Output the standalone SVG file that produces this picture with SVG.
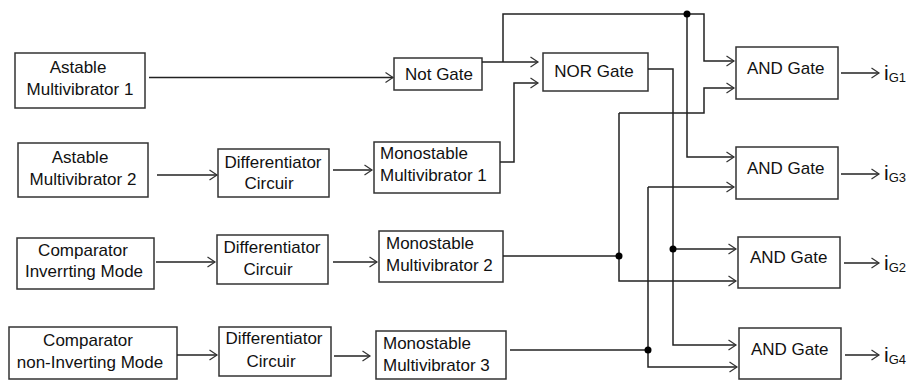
<svg xmlns="http://www.w3.org/2000/svg" width="913" height="380" viewBox="0 0 913 380">
<defs>
<marker id="arr" markerWidth="12" markerHeight="12" refX="9" refY="6" orient="auto" markerUnits="userSpaceOnUse">
<path d="M1.5,1 L9,6 L1.5,11" fill="none" stroke="#333" stroke-width="1.2"/>
</marker>
<style>
.box{fill:#fff;stroke:#333;stroke-width:1.5}
.t{font-family:"Liberation Sans",Arial,sans-serif;font-size:17px;fill:#111}
.c{text-anchor:middle}
.w{fill:none;stroke:#222;stroke-width:1.5}
.a{fill:none;stroke:#222;stroke-width:1.5;marker-end:url(#arr)}
.dot{fill:#000}
.i{font-family:"Liberation Sans",Arial,sans-serif;font-size:21px;fill:#111}
.s{font-size:13px}
</style>
</defs>
<rect width="913" height="380" fill="#fff"/>

<g id="astable1"><rect class="box" x="15" y="53" width="130" height="55"/><text class="t c" x="78" y="73">Astable</text><text class="t c" x="80" y="95">Multivibrator 1</text></g>
<g id="astable2"><rect class="box" x="18" y="143" width="130" height="54"/><text class="t c" x="80" y="163">Astable</text><text class="t c" x="83" y="185">Multivibrator 2</text></g>
<g id="comp-inv"><rect class="box" x="17" y="238" width="137" height="51"/><text class="t c" x="83" y="256">Comparator</text><text class="t c" x="84" y="277">Inverrting Mode</text></g>
<g id="comp-noninv"><rect class="box" x="9" y="327" width="168" height="52"/><text class="t c" x="88" y="346">Comparator</text><text class="t c" x="90" y="368">non-Inverting Mode</text></g>

<g id="diff1"><rect class="box" x="218" y="149" width="111" height="48"/><text class="t c" x="273" y="168">Differentiator</text><text class="t c" x="269" y="189">Circuir</text></g>
<g id="diff2"><rect class="box" x="217" y="235" width="111" height="49"/><text class="t c" x="272" y="253">Differentiator</text><text class="t c" x="268" y="275">Circuir</text></g>
<g id="diff3"><rect class="box" x="219" y="327" width="112" height="49"/><text class="t c" x="274" y="344">Differentiator</text><text class="t c" x="271" y="367">Circuir</text></g>

<g id="mono1"><rect class="box" x="374" y="142" width="126" height="51"/><text class="t" x="380" y="159">Monostable</text><text class="t" x="380" y="181">Multivibrator 1</text></g>
<g id="mono2"><rect class="box" x="379" y="231" width="124" height="51"/><text class="t" x="386" y="249">Monostable</text><text class="t" x="386" y="271">Multivibrator 2</text></g>
<g id="mono3"><rect class="box" x="376" y="331" width="130" height="48"/><text class="t" x="383" y="349">Monostable</text><text class="t" x="383" y="371">Multivibrator 3</text></g>

<g id="notgate"><rect class="box" x="394" y="58" width="88" height="32"/><text class="t c" x="439" y="80">Not Gate</text></g>
<g id="norgate"><rect class="box" x="543" y="53" width="105" height="38"/><text class="t c" x="594" y="77">NOR Gate</text></g>

<g id="and1"><rect class="box" x="736" y="47" width="102" height="52"/><text class="t" x="747" y="74">AND Gate</text></g>
<g id="and3"><rect class="box" x="736" y="147" width="102" height="52"/><text class="t" x="747" y="174">AND Gate</text></g>
<g id="and2"><rect class="box" x="738" y="237" width="102" height="51"/><text class="t" x="750" y="263">AND Gate</text></g>
<g id="and4"><rect class="box" x="739" y="328" width="102" height="51"/><text class="t" x="751" y="355">AND Gate</text></g>

<g id="outputs">
<text class="i" x="884" y="80">i<tspan class="s" dy="2">G1</tspan></text>
<text class="i" x="884" y="180">i<tspan class="s" dy="2">G3</tspan></text>
<text class="i" x="884" y="270">i<tspan class="s" dy="2">G2</tspan></text>
<text class="i" x="884" y="362">i<tspan class="s" dy="2">G4</tspan></text>
</g>

<g id="connectors">
<path class="a" d="M149,77.5 H393"/>
<path class="a" d="M157,175 H217"/>
<path class="a" d="M333,170 H372"/>
<path class="a" d="M156,262 H215"/>
<path class="a" d="M333,262 H377"/>
<path class="a" d="M177,355 H217"/>
<path class="a" d="M334,356 H370"/>

<path class="a" d="M482,62 H538"/>
<path class="a" d="M503,62 V14 H704 V61 H734"/>
<path class="a" d="M687,14 V157 H734"/>
<path class="a" d="M500,162 H514 V83 H538"/>
<path class="a" d="M648,69 H673 V345 H736"/>
<path class="a" d="M673,249 H736"/>
<path class="w" d="M503,256 H619"/>
<path class="a" d="M619,113 V281 H736"/>
<path class="a" d="M619,113 H704 V88 H734"/>
<path class="w" d="M510,350 H648"/>
<path class="a" d="M648,187 H734"/>
<path class="a" d="M648,187 V367 H737"/>

<path class="a" d="M841,73 H879"/>
<path class="a" d="M841,174 H879"/>
<path class="a" d="M844,263 H879"/>
<path class="a" d="M845,355 H879"/>

<circle class="dot" cx="687" cy="14" r="3.5"/>
<circle class="dot" cx="673" cy="249" r="3.5"/>
<circle class="dot" cx="619" cy="256" r="3.5"/>
<circle class="dot" cx="648" cy="350" r="3.5"/>
</g>
</svg>
